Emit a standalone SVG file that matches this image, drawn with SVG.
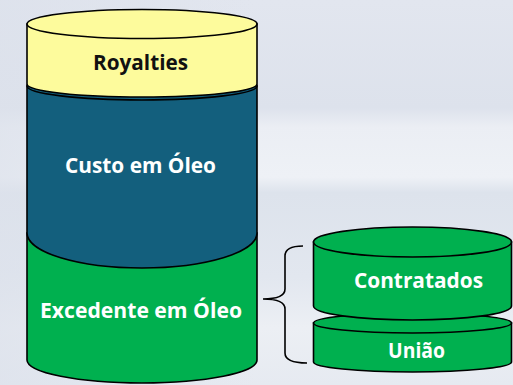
<svg xmlns="http://www.w3.org/2000/svg" width="513" height="385" viewBox="0 0 513 385">
<defs>
<linearGradient id="bg" x1="0" y1="0" x2="0" y2="1">
<stop offset="0" stop-color="#E2E6EF"/>
<stop offset="0.28" stop-color="#DDE2EC"/>
<stop offset="0.33" stop-color="#EBEEF4"/>
<stop offset="0.46" stop-color="#EEF1F6"/>
<stop offset="0.50" stop-color="#DDE3EC"/>
<stop offset="0.72" stop-color="#E2E7EF"/>
<stop offset="0.85" stop-color="#ECEFF4"/>
<stop offset="1" stop-color="#E6EAF1"/>
</linearGradient>
<linearGradient id="bgl" x1="0" y1="0" x2="1" y2="0">
<stop offset="0" stop-color="#DCE1EB" stop-opacity="0.7"/>
<stop offset="0.5" stop-color="#DCE1EB" stop-opacity="0"/>
</linearGradient>
</defs>
<style>
.cyl{stroke:#000;stroke-width:1.6}
.y{fill:#FDFB9C}
.b{fill:#135F7D}
.g{fill:#00B04F}
.t{font-family:"Open Sans","Liberation Sans",sans-serif;font-weight:bold;text-anchor:middle}
.w{fill:#FFFFFF;font-size:21px}
.k{fill:#111111;font-size:22px}
.br{fill:none;stroke:#000;stroke-width:1.6}
</style>
<rect x="0" y="0" width="513" height="385" fill="url(#bg)"/>
<rect x="0" y="0" width="513" height="385" fill="url(#bgl)"/>
<g id="excedente">
<path class="cyl g" d="M27,233 L27,360 A115,23 0 0 0 257,360 L257,233 Z"/>
<text class="t w" x="141" y="318" textLength="202" lengthAdjust="spacingAndGlyphs">Excedente em Óleo</text>
</g>
<g id="custo">
<path class="cyl b" d="M27,86 L27,233 A115,35 0 0 0 257,233 L257,86 A115,14 0 0 0 27,86 Z"/>
<ellipse class="cyl b" cx="142" cy="86" rx="115" ry="14"/>
<text class="t w" x="140.5" y="173" textLength="151" lengthAdjust="spacingAndGlyphs">Custo em Óleo</text>
</g>
<g id="royalties">
<path class="cyl y" d="M27,24 L27,84 A115,13 0 0 0 257,84 L257,24 Z"/>
<ellipse class="cyl y" cx="142" cy="24" rx="115" ry="14.5"/>
<text class="t k" x="140.5" y="70" textLength="95" lengthAdjust="spacingAndGlyphs">Royalties</text>
</g>
<g id="uniao">
<path class="cyl g" d="M313.5,323 L313.5,362 A99,10 0 0 0 511.5,362 L511.5,323 Z"/>
<ellipse class="cyl g" cx="412.5" cy="323" rx="99" ry="10"/>
<text class="t w" x="416.5" y="358" textLength="57" lengthAdjust="spacingAndGlyphs">União</text>
</g>
<g id="contratados">
<path class="cyl g" d="M313.5,242 L313.5,306 A99,14 0 0 0 511.5,306 L511.5,242 Z"/>
<ellipse class="cyl g" cx="412.5" cy="242" rx="99" ry="15"/>
<text class="t w" x="418.5" y="288" textLength="129" lengthAdjust="spacingAndGlyphs">Contratados</text>
</g>
<g id="connectors">
<path class="br" d="M303,246 Q285,246 285,256 L285,289 Q285,299 263,299 Q285,299 285,309 L285,353 Q285,363 307,363"/>
</g>
</svg>
